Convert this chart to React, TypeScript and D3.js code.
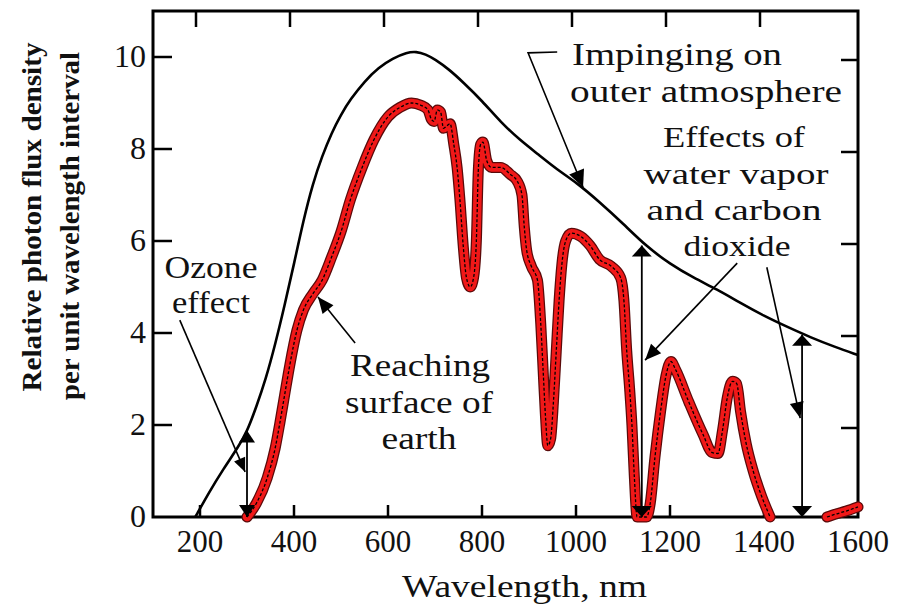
import React from "react";
import * as d3 from "d3";

// ---------- data ----------
// Solar photon flux impinging on the outer atmosphere (nm, relative value)
const atmWl = [190, 220, 250, 280, 300, 320, 340, 360, 380, 400, 420, 440, 460, 480, 500, 520, 550, 580, 610, 640, 660, 680, 700, 730, 760, 800, 840, 880, 920, 960, 1000, 1050, 1100, 1150, 1200, 1250, 1300, 1350, 1400, 1450, 1500, 1550, 1600];
const atmVal = [0, 0.55, 1.05, 1.5, 1.85, 2.4, 3.0, 3.75, 4.6, 5.5, 6.45, 7.25, 7.85, 8.35, 8.75, 9.08, 9.47, 9.77, 9.97, 10.1, 10.12, 10.06, 9.95, 9.73, 9.45, 9.05, 8.58, 8.2, 7.88, 7.55, 7.28, 6.85, 6.38, 5.88, 5.5, 5.2, 4.95, 4.65, 4.37, 4.13, 3.9, 3.7, 3.52];

// Photon flux reaching the surface of the earth
const surfWl = [300, 320, 343, 360, 370, 380, 391, 406, 420, 440, 460, 480, 500, 520, 545, 570, 600, 625, 650, 670, 685, 692, 698, 705, 712, 718, 725, 732, 740, 747, 753, 760, 767, 775, 782, 788, 792, 797, 802, 810, 820, 840, 860, 875, 885, 890, 895, 905, 918, 925, 930, 935, 940, 946, 952, 958, 964, 970, 978, 990, 1010, 1030, 1050, 1075, 1095, 1102, 1108, 1114, 1119, 1124, 1130, 1150, 1158, 1168, 1180, 1192, 1202, 1212, 1240, 1270, 1290, 1302, 1312, 1322, 1333, 1342, 1350, 1362, 1377, 1395, 1413];
const surfVal = [0, 0.3, 0.85, 1.5, 2.05, 2.65, 3.3, 4.05, 4.5, 4.85, 5.15, 5.65, 6.2, 6.9, 7.6, 8.2, 8.7, 8.9, 9.0, 8.95, 8.85, 8.65, 8.6, 8.85, 8.8, 8.45, 8.5, 8.55, 8.1, 7.6, 6.9, 5.9, 5.2, 5.0, 5.2, 6.0, 7.5, 8.1, 8.15, 7.75, 7.6, 7.6, 7.45, 7.3, 7.0, 6.3, 5.8, 5.45, 5.15, 4.2, 3.2, 2.2, 1.55, 1.7, 2.5, 3.6, 4.7, 5.5, 6.0, 6.17, 6.1, 5.9, 5.6, 5.45, 5.2, 4.7, 3.6, 2.8, 2.0, 0.9, 0, 0, 0.3, 1.3, 2.3, 3.1, 3.38, 3.2, 2.5, 1.8, 1.4, 1.38, 1.9, 2.6, 2.95, 2.9, 2.3, 1.6, 1.0, 0.45, 0];
const tailWl = [1534, 1555, 1575, 1600];
const tailVal = [0, 0.07, 0.13, 0.22];

const xTicks = [200, 400, 600, 800, 1000, 1200, 1400, 1600];
const yTicks = [0, 2, 4, 6, 8, 10];

// ---------- scales ----------
const x = d3.scaleLinear().domain([100, 1600]).range([153, 858]);
const y = d3.scaleLinear().domain([0, 11]).range([517, 11]);

const line = d3
  .line<[number, number]>()
  .x((d) => x(d[0]))
  .y((d) => y(d[1]))
  .curve(d3.curveMonotoneX);
const smooth = d3
  .line<[number, number]>()
  .x((d) => x(d[0]))
  .y((d) => y(d[1]))
  .curve(d3.curveBasis);

const zip = (a: number[], b: number[]) => a.map((v, i) => [v, b[i]] as [number, number]);
const atm = zip(atmWl, atmVal);
const surf = zip(surfWl, surfVal);
const tail = zip(tailWl, tailVal);

function head(from: [number, number], tip: [number, number], len: number, hw: number) {
  const [x1, y1] = [x(from[0]), y(from[1])];
  const [x2, y2] = [x(tip[0]), y(tip[1])];
  const dx = x2 - x1, dy = y2 - y1;
  const d = Math.hypot(dx, dy) || 1;
  const ux = dx / d, uy = dy / d;
  const bx = x2 - ux * len, by = y2 - uy * len;
  return `${x2},${y2} ${bx - uy * hw},${by + ux * hw} ${bx + uy * hw},${by - ux * hw}`;
}

function Leader({ pts, len = 16, hw = 7 }: { pts: [number, number][]; len?: number; hw?: number }) {
  const n = pts.length;
  return (
    <g>
      <polyline
        points={pts.map((p) => `${x(p[0])},${y(p[1])}`).join(" ")}
        fill="none"
        stroke="#000"
        strokeWidth={1.6}
      />
      <polygon points={head(pts[n - 2], pts[n - 1], len, hw)} fill="#000" />
    </g>
  );
}

function DoubleArrow({ wl, top, len = 11, hw = 10 }: { wl: number; top: number; len?: number; hw?: number }) {
  return (
    <g>
      <line x1={x(wl)} x2={x(wl)} y1={y(0)} y2={y(top)} stroke="#000" strokeWidth={1.8} />
      <polygon points={head([wl, 0], [wl, top], len, hw)} fill="#000" />
      <polygon points={head([wl, top], [wl, 0], len, hw)} fill="#000" />
    </g>
  );
}

const serif = "'Liberation Serif', 'Times New Roman', serif";

function T({ x: tx, y: ty, s, len, size = 30, anchor = "middle", weight = "normal" }: any) {
  return (
    <text
      x={tx}
      y={ty}
      fontFamily={serif}
      fontSize={size}
      fontWeight={weight}
      textAnchor={anchor}
      textLength={len}
      lengthAdjust="spacingAndGlyphs"
      fill="#111"
    >
      {s}
    </text>
  );
}

export default function App() {
  const left = x(100), right = x(1600), top = y(11), bottom = y(0);
  return (
    <svg width={900} height={615} style={{ position: "absolute", left: 0, top: 0, background: "#fff" }}>
      <rect x={0} y={0} width={900} height={615} fill="#fff" />

      {/* frame */}
      <rect x={left} y={top} width={right - left} height={bottom - top} fill="none" stroke="#000" strokeWidth={3} />

      {/* ticks */}
      {xTicks.filter((t) => t < 1600).map((t) => (
        <g key={"xt" + t}>
          <line x1={x(t)} x2={x(t)} y1={bottom} y2={bottom - 12} stroke="#000" strokeWidth={2.5} />
          <line x1={x(t) - 4} x2={x(t) - 4} y1={top} y2={top + 16} stroke="#000" strokeWidth={2.5} />
        </g>
      ))}
      {yTicks.filter((t) => t > 0).map((t) => (
        <g key={"yt" + t}>
          <line x1={left} x2={left + 19} y1={y(t)} y2={y(t)} stroke="#000" strokeWidth={2.5} />
          <line x1={right} x2={right - 17} y1={y(t) + 3} y2={y(t) + 3} stroke="#000" strokeWidth={2.5} />
        </g>
      ))}

      {/* tick labels */}
      {xTicks.map((t) => (
        <T key={"xl" + t} x={x(t)} y={552} s={String(t)} len={String(t).length * 15.5} size={31} />
      ))}
      {yTicks.map((t) => (
        <T key={"yl" + t} x={146} y={y(t) + 10} s={String(t)} len={String(t).length * 16} size={31} anchor="end" />
      ))}

      {/* axis titles */}
      <T x={402} y={597} s="Wavelength, nm" len={245} size={32} anchor="start" />
      <g transform="translate(41,217) rotate(-90)">
        <T x={0} y={0} s="Relative photon flux density" len={349} size={28} weight="bold" />
      </g>
      <g transform="translate(79,226) rotate(-90)">
        <T x={0} y={0} s="per unit wavelength interval" len={348} size={28} weight="bold" />
      </g>

      {/* curves */}
      <path d={smooth(atm) || ""} fill="none" stroke="#000" strokeWidth={2.6} />
      {[surf, tail].map((seg, i) => (
        <g key={"s" + i}>
          <path d={line(seg) || ""} fill="none" stroke="#5a0a0a" strokeWidth={11} strokeLinejoin="round" strokeLinecap="round" />
          <path d={line(seg) || ""} fill="none" stroke="#f01818" strokeWidth={8.5} strokeLinejoin="round" strokeLinecap="round" />
          <path d={line(seg) || ""} fill="none" stroke="#000" strokeWidth={1.3} strokeDasharray="3 2" />
        </g>
      ))}

      {/* double arrows */}
      <DoubleArrow wl={300} top={1.88} len={12} hw={8} />
      <DoubleArrow wl={1140} top={5.9} />
      <DoubleArrow wl={1481} top={3.96} />

      {/* leaders */}
      <Leader pts={[[960, 10.11], [898, 10.09], [1015, 7.17]]} len={17} hw={8} />
      <Leader pts={[[157, 4.28], [296, 0.98]]} len={14} hw={6} />
      <Leader pts={[[530, 3.78], [451, 4.78]]} len={16} hw={7} />
      <Leader pts={[[1343, 5.52], [1147, 3.41]]} len={16} hw={7} />
      <Leader pts={[[1406, 5.43], [1477, 2.15]]} len={16} hw={7} />

      {/* annotation text */}
      <T x={572} y={65} s="Impinging on" len={210} size={32} anchor="start" />
      <T x={570} y={102} s="outer atmosphere" len={272} size={32} anchor="start" />
      <T x={734} y={147} s="Effects of" len={142} size={30} />
      <T x={736} y={184} s="water vapor" len={185} size={30} />
      <T x={734} y={220} s="and carbon" len={175} size={30} />
      <T x={737} y={256} s="dioxide" len={107} size={30} />
      <T x={211} y={278} s="Ozone" len={93} size={31} />
      <T x={211} y={313} s="effect" len={78} size={31} />
      <T x={420} y={376} s="Reaching" len={140} size={32} />
      <T x={419} y={413} s="surface of" len={148} size={32} />
      <T x={419} y={449} s="earth" len={75} size={32} />
    </svg>
  );
}
